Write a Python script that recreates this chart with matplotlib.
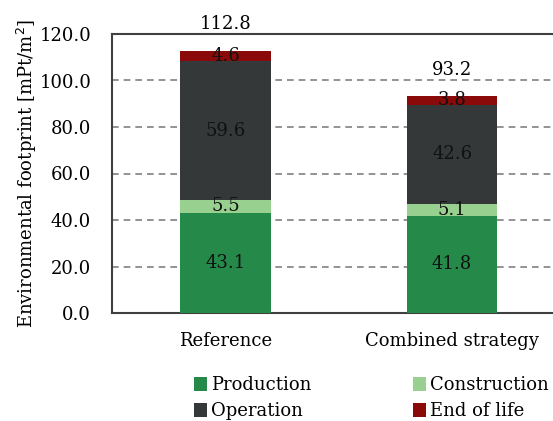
import matplotlib.pyplot as plt
import numpy as np

categories = ['Reference', 'Combined strategy']
series_names = ['Production', 'Construction', 'Operation', 'End of life']
production = [43.1, 41.8]
construction = [5.5, 5.1]
operation = [59.6, 42.6]
end_of_life = [4.6, 3.8]
totals = [112.8, 93.2]
colors = ['#25894a', '#98d18f', '#353839', '#8a0a0a']

plt.rcParams['font.family'] = ['DejaVu Serif']
fig = plt.figure(figsize=(5.53, 4.21), dpi=100)
ax = fig.add_axes([112 / 553, 1 - 313 / 421, 453.5 / 553, 279 / 421])

x = np.arange(len(categories))
bottom = np.zeros(len(categories))
bars = {}
for name, vals, col in zip(series_names, [production, construction, operation, end_of_life], colors):
    b = ax.bar(x, vals, 0.4, bottom=bottom, color=col, label=name, zorder=3)
    for i, v in enumerate(vals):
        ax.text(x[i], bottom[i] + v / 2, f'{v:.1f}', ha='center', va='center',
                fontsize=13, color='#111111', zorder=4)
    bars[name] = b
    bottom += np.array(vals)

for i, t in enumerate(totals):
    ax.text(x[i], t + 11.5, f'{t:.1f}', ha='center', va='center', fontsize=13,
            clip_on=False)

ax.set_xlim(-0.5, 1.5)
ax.set_ylim(0, 120)
ax.set_yticks(np.arange(0, 121, 20))
ax.set_yticklabels([f'{v:.1f}' for v in np.arange(0, 121, 20)], fontsize=13)
ax.set_xticks(x)
ax.set_xticklabels(categories, fontsize=13)
ax.tick_params(axis='y', length=0, pad=15)
ax.tick_params(axis='x', length=0, pad=14)
for yv in range(20, 120, 20):
    ax.axhline(yv, color='#808080', linestyle=(0, (4, 3)), linewidth=1.2, zorder=1)
for s in ['left', 'bottom', 'top']:
    ax.spines[s].set_color('#404040')
    ax.spines[s].set_linewidth(1.5)
ax.spines['right'].set_visible(False)
ax.set_ylabel('Environmental footprint [mPt/m$^2$]', fontsize=13, labelpad=0)

handles = [bars['Production'], bars['Operation'], bars['Construction'], bars['End of life']]
labels = ['Production', 'Operation', 'Construction', 'End of life']
fig.legend(handles, labels, ncol=2, loc='center', bbox_to_anchor=(0.672, 0.054),
           frameon=False, fontsize=13, handlelength=0.7, handleheight=0.8,
           handletextpad=0.25, columnspacing=5.6, labelspacing=0.45, borderaxespad=0)

fig.savefig('out.png', dpi=100)
